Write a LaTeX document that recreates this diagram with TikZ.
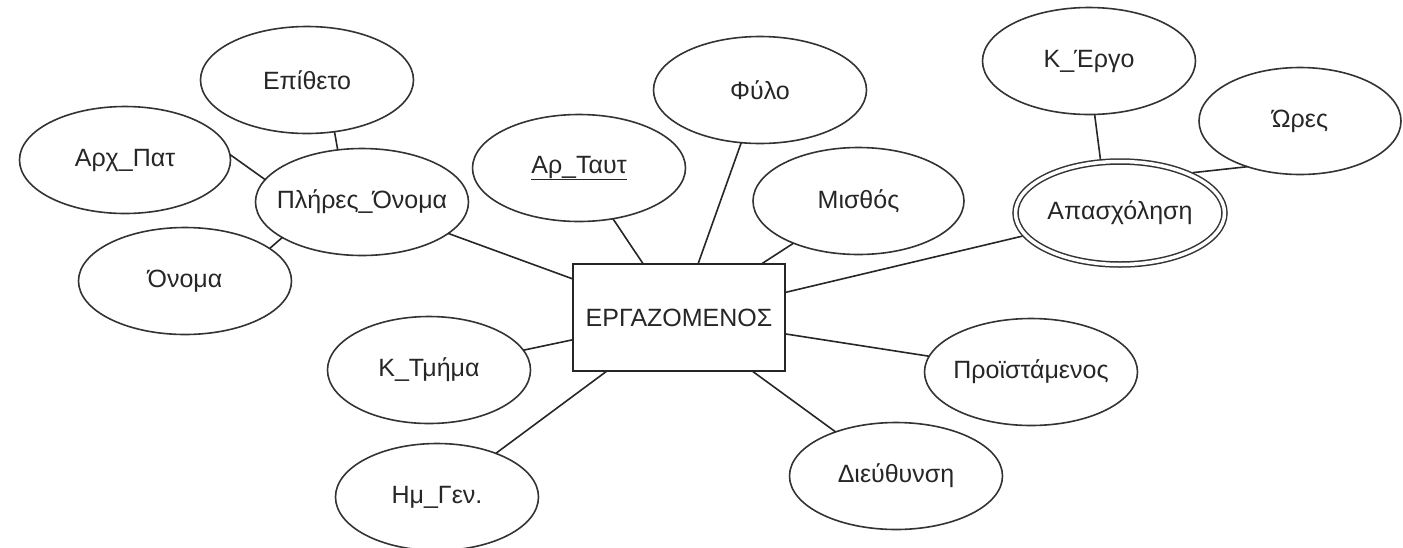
\documentclass[tikz,border=0pt]{standalone}
\usepackage{fontspec}
\setmainfont{Liberation Sans}
\usetikzlibrary{shapes.geometric}
% labels take no width, so the ellipse keeps its fixed size
\newcommand\lb[1]{\makebox[0pt]{#1}}
\begin{document}
\begin{tikzpicture}[x=1pt,y=-1pt,
  every node/.style={font=\fontsize{25}{30}\selectfont, text=black!85},
  attr/.style={ellipse, draw=black!80, line width=1.6pt, minimum width=213pt,
    minimum height=107pt, inner sep=0pt, outer sep=0pt},
  narrow/.style={attr, minimum width=203pt},
  multi/.style={attr, double, double distance=3.5pt, line width=1.5pt,
    minimum width=209pt, minimum height=103pt, outer sep=3.25pt},
  entity/.style={rectangle, draw=black!85, line width=1.8pt, minimum width=212pt,
    minimum height=107pt, inner sep=0pt, outer sep=0pt},
  link/.style={draw=black!85, line width=1.6pt}]
\useasboundingbox (0,0) rectangle (1403,547);

% entity
\node[entity] (emp) at (679,317.5) {\lb{ΕΡΓΑΖΟΜΕΝΟΣ}};

% composite attribute and its parts
\node[attr] (full)  at (362,202) {\lb{Πλήρες\_Όνομα}};
\node[attr] (epi)   at (307,80)  {\lb{Επίθετο}};
\node[attr, minimum width=211pt] (arx) at (125,160) {\lb{Αρχ\_Πατ}};
\node[attr] (onoma) at (185,281) {\lb{Όνομα}};

% simple attributes
\node[attr] (tid)   at (579,168) {\lb{\underline{Αρ\_Ταυτ}}};
\node[attr] (fylo)  at (760,90)  {\lb{Φύλο}};
\node[attr, minimum width=211pt] (misth) at (858.5,201) {\lb{Μισθός}};
\node[narrow] (tmima) at (429,370) {\lb{Κ\_Τμήμα}};
\node[narrow] (gen)   at (437,497) {\lb{Ημ\_Γεν.}};
\node[attr] (proist) at (1031,372) {\lb{Προϊστάμενος}};
\node[attr] (dieyth) at (896,476)  {\lb{Διεύθυνση}};

% multivalued attribute and its parts
\node[multi] (apas) at (1120,213) {\lb{Απασχόληση}};
\node[attr] (kergo) at (1089,61) {\lb{Κ\_Έργο}};
\node[attr, minimum width=202pt] (ores) at (1300,121) {\lb{Ώρες}};

% connectors
\draw[link] (emp) -- (full);
\draw[link] (emp) -- (tid);
\draw[link] (emp) -- (fylo);
\draw[link] (emp) -- (misth);
\draw[link] (emp) -- (apas);
\draw[link] (emp) -- (proist);
\draw[link] (emp) -- (dieyth);
\draw[link] (emp) -- (gen);
\draw[link] (emp) -- (tmima);

\draw[link] (epi.298.7) -- (full.115);
\draw[link] (arx.3.7) -- (full.167.9);
\draw[link] (onoma.21.7) -- (full.204.5);

\draw[link] (kergo.276) -- (apas.110.7);
\draw[link] (ores.221.8) -- (apas.29.8);
\end{tikzpicture}
\end{document}
